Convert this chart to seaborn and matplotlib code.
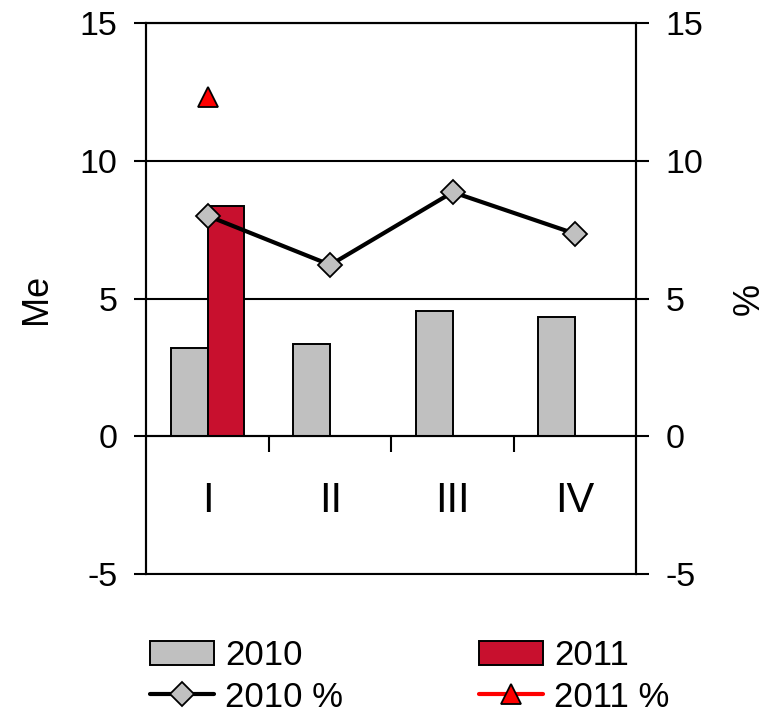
import numpy as np
import pandas as pd
import matplotlib
matplotlib.use("Agg")
import matplotlib.pyplot as plt
import seaborn as sns

# ---- data ----
categories = ["I", "II", "III", "IV"]
me_2010 = [3.2, 3.35, 4.55, 4.32]
me_2011 = [8.36, np.nan, np.nan, np.nan]
pct_2010 = [8.0, 6.22, 8.86, 7.35]
pct_2011 = [12.3, np.nan, np.nan, np.nan]
y_ticks = [-5, 0, 5, 10, 15]

sns.set_theme(style="white")
plt.rcParams["font.family"] = ["Liberation Sans", "DejaVu Sans"]
plt.rcParams["text.color"] = "black"
plt.rcParams["axes.labelcolor"] = "black"
plt.rcParams["xtick.color"] = "black"
plt.rcParams["ytick.color"] = "black"

bar_df = pd.DataFrame({
    "quarter": categories * 2,
    "value": me_2010 + me_2011,
    "year": ["2010"] * 4 + ["2011"] * 4,
})

fig = plt.figure(figsize=(7.65, 7.15), dpi=100)
ax = fig.add_axes([0.1915, 0.1972, 0.6405, 0.7706])

sns.barplot(data=bar_df, x="quarter", y="value", hue="year",
            hue_order=["2010", "2011"], order=categories,
            palette={"2010": "#C0C0C0", "2011": "#C8102E"},
            width=0.6, edgecolor="black", linewidth=1.4, saturation=1,
            errorbar=None, ax=ax)

ax2 = ax.twinx()
xpos = np.arange(len(categories))
sns.lineplot(x=xpos, y=pct_2010, color="black", linewidth=3, marker="D",
             markersize=12.5, markerfacecolor="#C0C0C0", markeredgecolor="black",
             markeredgewidth=1.3, label="2010 %", ax=ax2)
sns.lineplot(x=xpos, y=pct_2011, color="#FF0000", linewidth=3, marker="^",
             markersize=14, markerfacecolor="#FF0000", markeredgecolor="black",
             markeredgewidth=1.3, label="2011 %", ax=ax2)

for a in (ax, ax2):
    a.set_ylim(-5, 15)
    a.set_yticks(y_ticks)
    a.set_yticklabels([str(t) for t in y_ticks])
ax.set_xlim(-0.5, len(categories) - 0.5)

# grid lines
ax.yaxis.grid(True, color="black", linewidth=1.5)
ax.set_axisbelow(True)

# spines
for s in list(ax.spines.values()) + list(ax2.spines.values()):
    s.set_color("black")
    s.set_linewidth(1.5)
ax.spines["bottom"].set_position(("data", 0))

# ticks
ax.tick_params(axis="y", which="major", direction="out", length=9, width=1.5,
               labelsize=24.5, pad=12, left=True, colors="black")
ax2.tick_params(axis="y", which="major", direction="out", length=9, width=1.5,
                labelsize=24.5, pad=12, right=True, colors="black")
ax.set_xticks(xpos)
ax.set_xticklabels(categories)
ax.set_xticks(xpos[:-1] + 0.5, minor=True)
ax.tick_params(axis="x", which="major", length=0, labelsize=30, pad=32,
               colors="black")
ax.tick_params(axis="x", which="minor", direction="out", length=11.5,
               width=1.5, bottom=True, color="black")
ax.set_xlabel("")
ax.set_ylabel("Me", fontsize=26, labelpad=18, color="black")
ax2.set_ylabel("%", fontsize=26, labelpad=20, color="black")

# legend
h1, l1 = ax.get_legend_handles_labels()
h2, l2 = ax2.get_legend_handles_labels()
if ax.get_legend():
    ax.get_legend().remove()
if ax2.get_legend():
    ax2.get_legend().remove()
hd = dict(zip(l1 + l2, h1 + h2))
order = ["2010", "2010 %", "2011", "2011 %"]
leg = fig.legend([hd[k] for k in order], order, loc="upper left",
                 bbox_to_anchor=(0.196, 0.106), ncol=2, frameon=False,
                 fontsize=25, handlelength=1.84, handletextpad=0.32,
                 columnspacing=3.92, labelspacing=0.24, borderpad=0,
                 borderaxespad=0)
for t in leg.get_texts():
    t.set_color("black")

fig.savefig("out.png", dpi=100)
